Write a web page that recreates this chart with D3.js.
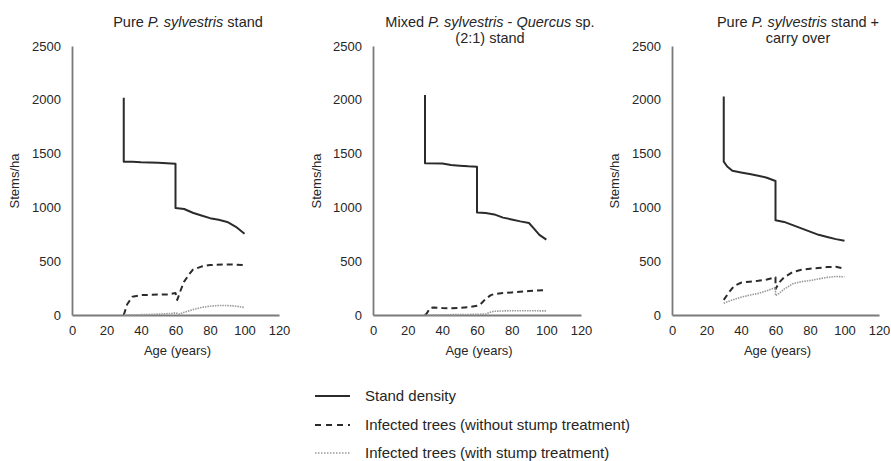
<!DOCTYPE html>
<html><head><meta charset="utf-8">
<script src="https://cdn.jsdelivr.net/npm/d3@7"></script>
<style>body{margin:0;background:#fff}svg{display:block;font-family:"Liberation Sans",Arial,sans-serif}</style>
</head><body><svg id="c" width="891" height="461"></svg>
<script>
const xTicks = [0,20,40,60,80,100,120];
const yTicks = [0,500,1000,1500,2000,2500];
const seriesNames = ["Stand density","Infected trees (without stump treatment)","Infected trees (with stump treatment)"];

// Panel 1: Pure P. sylvestris stand
const p1Density = [[30,2020],[30,1425],[35,1425],[40,1420],[50,1415],[55,1410],[60,1405],[60,995],[65,985],[70,950],[75,925],[80,900],[85,885],[90,865],[95,820],[100,755]];
const p1NoTreat = [[30,0],[32,100],[35,170],[40,185],[50,190],[55,190],[60,205],[61,140],[63,230],[65,310],[68,380],[70,420],[75,450],[80,465],[90,470],[100,465]];
const p1Treat = [[30,0],[40,3],[50,8],[58,15],[60,20],[62,8],[65,25],[70,50],[75,70],[80,82],[85,88],[90,88],[95,82],[100,70]];

// Panel 2: Mixed stand
const p2Density = [[30,2045],[30,1410],[40,1408],[45,1395],[50,1388],[55,1382],[60,1378],[60,952],[65,948],[70,935],[75,905],[80,888],[85,870],[90,855],[93,800],[96,745],[100,700]];
const p2NoTreat = [[30,0],[31,15],[33,65],[35,70],[40,65],[45,62],[50,65],[55,72],[60,85],[62,100],[65,150],[68,185],[70,195],[75,205],[80,210],[90,222],[100,232]];
const p2Treat = [[30,0],[40,2],[50,4],[60,6],[65,10],[68,28],[70,35],[80,40],[90,40],[100,38]];

// Panel 3: Pure stand + carry over
const p3Density = [[30,2030],[30,1425],[32,1380],[35,1340],[40,1325],[45,1310],[50,1295],[55,1275],[60,1245],[60,880],[65,865],[70,835],[75,805],[80,775],[85,745],[90,725],[95,705],[100,690]];
const p3NoTreat = [[30,140],[33,210],[36,270],[40,300],[45,310],[50,318],[55,330],[60,350],[60,240],[62,300],[65,350],[70,400],[75,420],[80,430],[90,445],[95,448],[100,430]];
const p3Treat = [[30,110],[35,140],[40,165],[45,185],[50,200],[55,225],[60,255],[60,180],[62,200],[65,240],[70,290],[75,310],[80,320],[85,335],[90,350],[95,358],[100,355]];

const panels = [
  {x0:72, x1:279, titleX:188, title:[[["Pure ",false],["P. sylvestris",true],[" stand",false]]], ylabX:15, series:[p1Density,p1NoTreat,p1Treat]},
  {x0:373, x1:581, titleX:490, title:[[["Mixed ",false],["P. sylvestris",true],[" - ",false],["Quercus",true],[" sp.",false]],[["(2:1) stand",false]]], ylabX:317, series:[p2Density,p2NoTreat,p2Treat]},
  {x0:672, x1:879, titleX:798, title:[[["Pure ",false],["P. sylvestris",true],[" stand +",false]],[["carry over",false]]], ylabX:615, series:[p3Density,p3NoTreat,p3Treat]}
];

const styles = [
  {stroke:"#2b2b2b", width:2, dash:null},
  {stroke:"#2b2b2b", width:2, dash:"6,4"},
  {stroke:"#9a9a9a", width:1.6, dash:"1.5,1"}
];

const svg = d3.select("#c");
const y = d3.scaleLinear().domain([0,2500]).range([315,46]);
const txt = "#262626";

panels.forEach(p => {
  const x = d3.scaleLinear().domain([0,120]).range([p.x0,p.x1]);
  const g = svg.append("g");
  const ya = g.append("g").attr("transform",`translate(${p.x0},0)`)
    .call(d3.axisLeft(y).tickValues(yTicks).tickSize(0).tickPadding(11).tickFormat(d3.format("d")));
  const xa = g.append("g").attr("transform",`translate(0,315)`)
    .call(d3.axisBottom(x).tickValues(xTicks).tickSize(0).tickPadding(11).tickFormat(d3.format("d")));
  [ya,xa].forEach(a => {
    a.select(".domain").attr("stroke","#7a7a7a").attr("stroke-width",1.8);
    a.selectAll("text").attr("font-size",13).attr("fill",txt);
  });
  const line = d3.line().x(d=>x(d[0])).y(d=>y(d[1]));
  p.series.forEach((s,i) => {
    g.append("path").datum(s).attr("d",line).attr("fill","none")
      .attr("stroke",styles[i].stroke).attr("stroke-width",styles[i].width)
      .attr("stroke-dasharray",styles[i].dash).attr("stroke-linejoin","round");
  });
  p.title.forEach((ln,li) => {
    const t = g.append("text").attr("x",p.titleX).attr("y",27+li*16).attr("text-anchor","middle")
      .attr("font-size",14.5).attr("fill",txt);
    ln.forEach(seg => t.append("tspan").text(seg[0]).attr("font-style",seg[1]?"italic":"normal"));
  });
  g.append("text").attr("transform",`translate(${p.ylabX+4},181) rotate(-90)`).attr("text-anchor","middle")
    .attr("font-size",13).attr("fill",txt).text("Stems/ha");
  g.append("text").attr("x",(p.x0+p.x1)/2+2).attr("y",355).attr("text-anchor","middle")
    .attr("font-size",13).attr("fill",txt).text("Age (years)");
});

const lg = svg.append("g");
const legY = [396,425,453];
seriesNames.forEach((n,i) => {
  lg.append("line").attr("x1",315).attr("x2",350).attr("y1",legY[i]).attr("y2",legY[i])
    .attr("stroke",i===2?"#666":styles[i].stroke).attr("stroke-width",i===2?1.2:styles[i].width)
    .attr("stroke-dasharray",i===1?"6,5":(i===2?"1.5,1.5":null));
  lg.append("text").attr("x",365).attr("y",legY[i]+5).attr("font-size",15).attr("fill",txt).text(n);
});
</script></body></html>
